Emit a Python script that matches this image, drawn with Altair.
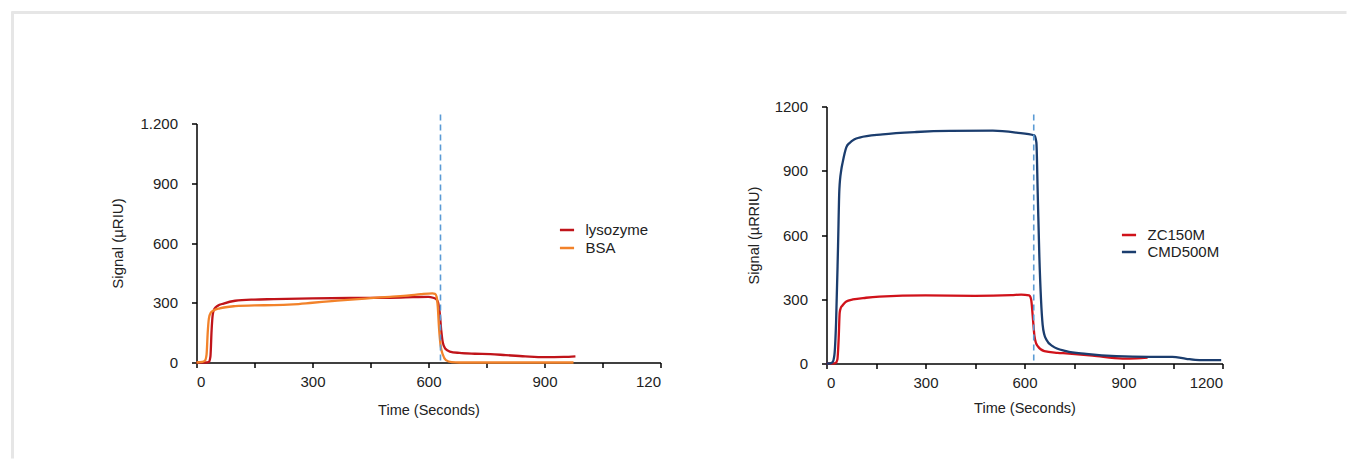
import altair as alt
import pandas as pd

# ---------------- data ----------------
lyso_t = [0, 25, 32, 36, 39, 42, 46, 55, 70, 100, 150, 200, 300, 400, 500, 560, 600, 612, 620, 625,
          629, 633, 637, 643, 655, 680, 720, 760, 800, 850, 900, 950, 980]
lyso_v = [0, 0, 3, 30, 160, 240, 268, 285, 296, 310, 316, 318, 322, 324, 325, 328, 330, 325, 318, 300,
          250, 160, 100, 70, 55, 48, 44, 42, 37, 31, 27, 28, 31]

bsa_t = [0, 15, 22, 26, 29, 32, 37, 45, 60, 100, 150, 200, 250, 300, 350, 400, 450, 500, 550, 580,
         610, 617, 621, 624, 627, 631, 637, 645, 660, 680, 975]
bsa_v = [0, 3, 10, 40, 150, 220, 250, 262, 272, 283, 287, 288, 292, 300, 308, 316, 323, 330, 337, 343,
         347, 345, 330, 280, 180, 90, 40, 12, 2, 0, 0]

zc_t = [0, 20, 28, 33, 37, 40, 44, 48, 60, 80, 120, 160, 300, 450, 560, 590, 614, 620, 625, 630,
        635, 640, 660, 700, 726, 806, 897, 940, 973]
zc_v = [0, 0, 3, 19, 120, 238, 262, 270, 290, 299, 307, 312, 318, 316, 319, 322, 318, 300, 220, 130,
        95, 81, 58, 50, 47, 37, 23, 24, 27]

cmd_t = [0, 10, 18, 24, 29, 35, 39, 45, 49, 60, 70, 85, 100, 170, 272, 373, 504, 575, 630, 636,
         640, 645, 650, 655, 660, 666, 685, 726, 787, 878, 979, 1048, 1090, 1130, 1196]
cmd_v = [0, 0, 5, 40, 190, 550, 813, 906, 939, 1009, 1030, 1047, 1055, 1070, 1081, 1086, 1087, 1078, 1065, 1032,
         800, 500, 300, 180, 135, 112, 81, 58, 45, 34, 31, 31, 22, 16, 16]

left_names = ["lysozyme", "BSA"]
left_colors = ["#c0141a", "#f2822a"]
right_names = ["ZC150M", "CMD500M"]
right_colors = ["#d0121a", "#1b3d6e"]

x_ticks = list(range(0, 1201, 150))
y_ticks = list(range(0, 1201, 150))

left_injection_end = 631
right_injection_end = 628

FONT = "Liberation Sans"
TXT = "#222222"

left_df = pd.concat([
    pd.DataFrame({"t": lyso_t, "v": lyso_v, "s": "lysozyme"}),
    pd.DataFrame({"t": bsa_t, "v": bsa_v, "s": "BSA"}),
])
right_df = pd.concat([
    pd.DataFrame({"t": zc_t, "v": zc_v, "s": "ZC150M"}),
    pd.DataFrame({"t": cmd_t, "v": cmd_v, "s": "CMD500M"}),
])


def axis_common(**kw):
    base = dict(grid=False, domainColor="black", domainWidth=1.5, tickColor="black",
                tickWidth=1.5, tickSize=5, labelFont=FONT, labelFontSize=15, labelColor=TXT,
                titleFont=FONT, titleFontSize=14.5, titleFontWeight="normal", titleColor=TXT,
                format="d")
    base.update(kw)
    return alt.Axis(**base)


def panel(df, names, colors, w, h, top_gap, ytitle, ylabel_expr, xlabel_expr, rule_t, rule_top,
          leg_x, leg_y, leg_pad, ytitle_x, xtitle_y, ytitle_size):
    xscale = alt.Scale(domain=[0, 1200], nice=False)
    yscale = alt.Scale(domain=[0, 1200], nice=False, range=[h, top_gap])
    lines = alt.Chart(df).mark_line(strokeWidth=2.3, interpolate="monotone").encode(
        x=alt.X("t:Q", scale=xscale,
                axis=axis_common(values=x_ticks, labelExpr=xlabel_expr, title="Time (Seconds)",
                                 labelPadding=7, titleX=w / 2, titleY=xtitle_y,
                                 titleBaseline="middle", titleAlign="center")),
        y=alt.Y("v:Q", scale=yscale,
                axis=axis_common(values=y_ticks, labelExpr=ylabel_expr, title=ytitle,
                                 labelPadding=14, titleX=ytitle_x, titleY=(h + top_gap) / 2,
                                 titleAngle=270, titleBaseline="middle", titleAlign="center",
                                 titleFontSize=ytitle_size)),
        color=alt.Color("s:N", scale=alt.Scale(domain=names, range=colors),
                        legend=alt.Legend(title=None, orient="none", legendX=leg_x, legendY=leg_y,
                                          symbolType="stroke", symbolSize=200, symbolStrokeWidth=2.5,
                                          labelFont=FONT, labelFontSize=15, labelColor=TXT,
                                          labelOffset=10, rowPadding=leg_pad, padding=0)),
        detail="s:N",
    )
    rdf = pd.DataFrame({"t": [rule_t], "top": [rule_top], "bottom": [0]})
    rule = alt.Chart(rdf).mark_rule(color="#5b9bd5", strokeDash=[6, 4], strokeWidth=1.6).encode(
        x=alt.X("t:Q", scale=xscale), y=alt.Y("top:Q", scale=yscale), y2="bottom:Q")
    return lines, rule


# light grey frame of the original figure (decoration, top and left edges)
frame_df = pd.DataFrame({"k": [0]})
frame_top = alt.Chart(frame_df).mark_rule(color="#e6e6e6", strokeWidth=3).encode(
    x=alt.value(-185), x2=alt.value(1150), y=alt.value(-94))
frame_left = alt.Chart(frame_df).mark_rule(color="#e6e6e6", strokeWidth=3).encode(
    x=alt.value(-184), y=alt.value(-95), y2=alt.value(352))

l_lines, l_rule = panel(left_df, left_names, left_colors, 464, 256, 17, "Signal (µRIU)",
                        "datum.value == 1200 ? '1.200' : (datum.value % 300 == 0 ? datum.label : '')",
                        "datum.value == 1200 ? '120' : (datum.value % 300 == 0 ? datum.label : '')",
                        left_injection_end, 1245, 362, 115, 1, -79, 48, 15)
left = alt.layer(frame_top, frame_left, l_lines, l_rule).properties(width=464, height=256)

r_lines, r_rule = panel(right_df, right_names, right_colors, 396, 257, 0, "Signal (µRRIU)",
                        "datum.value % 300 == 0 ? datum.label : ''",
                        "datum.value % 300 == 0 ? datum.label : ''",
                        right_injection_end, 1163, 294, 120, 0, -72, 45, 14.5)
right = alt.layer(r_lines, r_rule).properties(width=396, height=257)

chart = alt.hconcat(left, right, spacing=166, bounds="flush").resolve_scale(
    color="independent", x="independent", y="independent"
).properties(
    padding={"left": 1.5, "top": 1.5, "right": 0, "bottom": 0},
    background="white",
).configure_view(stroke=None)

chart.save("out.html", embed_options={"renderer": "svg", "actions": False})
